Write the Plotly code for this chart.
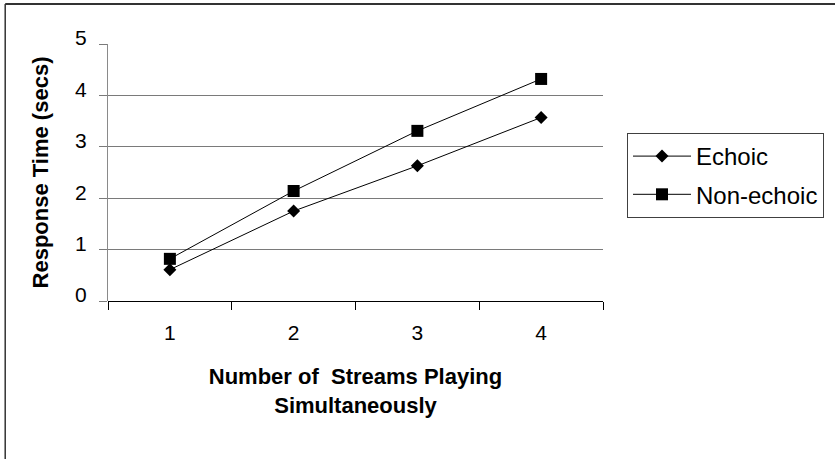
import plotly.graph_objects as go

categories = ["1", "2", "3", "4"]
echoic = [0.61, 1.75, 2.63, 3.57]
non_echoic = [0.82, 2.14, 3.31, 4.32]
y_ticks = [0, 1, 2, 3, 4, 5]

FONT = "Liberation Sans, Arial, sans-serif"

W, H = 835, 459
ML, MR, MT, MB = 108, 231, 44, 158
PW, PH = W - ML - MR, H - MT - MB


def px_x(p):
    return (p - ML) / PW


def px_y(p):
    return (H - MB - p) / PH


fig = go.Figure()
fig.add_trace(go.Scatter(
    x=categories, y=echoic, name="Echoic", mode="lines+markers",
    line=dict(color="black", width=1),
    marker=dict(symbol="diamond", size=10, color="black"),
    legendgroup="a",
))
fig.add_trace(go.Scatter(
    x=categories, y=non_echoic, name="Non-echoic", mode="lines+markers",
    line=dict(color="black", width=1),
    marker=dict(symbol="square", size=12, color="black"),
    legendgroup="b",
))

fig.update_layout(
    width=W, height=H,
    margin=dict(l=ML, r=MR, t=MT, b=MB, pad=0),
    paper_bgcolor="white", plot_bgcolor="white",
    font=dict(family=FONT, color="black", size=20),
    showlegend=True,
    legend=dict(
        x=px_x(627), y=px_y(133), xanchor="left", yanchor="top",
        bordercolor="#404040", borderwidth=1, bgcolor="white",
        font=dict(size=24, family=FONT),
        tracegroupgap=4, itemwidth=58,
    ),
    xaxis=dict(
        type="category", range=[-0.5, 3.5],
        tickson="boundaries", ticks="outside", ticklen=8, tickcolor="black",
        showline=False, showgrid=False, zeroline=False,
        tickfont=dict(size=21),
        ticklabelstandoff=17,
        title=dict(text="<b>Number of&nbsp; Streams Playing<br>Simultaneously</b>",
                   font=dict(size=22), standoff=25),
        automargin=False,
    ),
    yaxis=dict(
        range=[0, 5], tickvals=y_ticks, ticktext=[str(v) for v in y_ticks],
        showgrid=True, gridcolor="#7a7a7a", gridwidth=1,
        zeroline=True, zerolinecolor="black", zerolinewidth=1,
        showline=True, linecolor="#8a8a8a", linewidth=1,
        ticks="outside", ticklen=8, tickcolor="#7a7a7a",
        tickfont=dict(size=21),
        ticklabelstandoff=8, ticklabelshift=-6,
        title=dict(text="<b>Response Time (secs)</b>", font=dict(size=22), standoff=20),
        automargin=False,
    ),
    shapes=[
        dict(type="line", xref="paper", yref="paper",
             x0=px_x(5), x1=px_x(900), y0=px_y(4), y1=px_y(4),
             line=dict(color="#333333", width=2)),
        dict(type="line", xref="paper", yref="paper",
             x0=px_x(5), x1=px_x(5), y0=px_y(4), y1=px_y(520),
             line=dict(color="#333333", width=1.5)),
    ],
)

fig.write_html("out.html", config={"displayModeBar": False},
               post_script="document.body.style.margin='0';")
